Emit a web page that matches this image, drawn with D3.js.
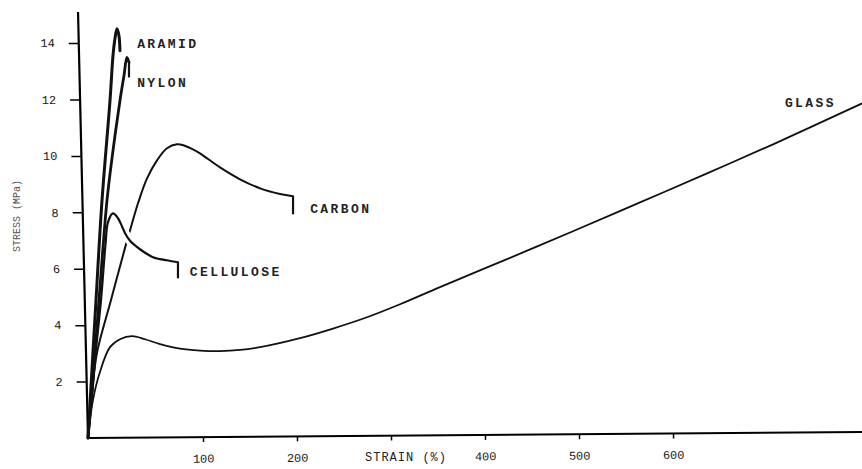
<!DOCTYPE html>
<html>
<head>
<meta charset="utf-8">
<script src="https://cdn.jsdelivr.net/npm/d3@7"></script>
<style>
  html, body { margin: 0; padding: 0; background: #fff; }
  svg { display: block; }
  text { font-family: "Liberation Mono", "DejaVu Sans Mono", monospace; fill: #222; }
</style>
</head>
<body>
<script>
// stress-strain curves, [strain %, stress MPa]
const aramid = [[-22.3, 0], [-13.8, 4.88], [-7.4, 8.42], [1.1, 11.96], [4.3, 13.56],
  [6.4, 14.16], [8.5, 14.51], [10.6, 14.27], [11.7, 13.73]];
const nylon = [[-22.3, 0], [-17.0, 2.05], [-10.6, 4.88], [-2.1, 8.42], [4.3, 10.19],
  [11.7, 11.96], [16.0, 12.85], [19.1, 13.49], [21.3, 13.31], [21.3, 12.78]];
const cellulose = [[-22.3, 0], [-14.9, 2.76], [-8.5, 4.88], [-3.6, 6.9], [-1.0, 7.65],
  [4.3, 7.96], [9.6, 7.79], [13.9, 7.50], [17.1, 7.26], [22.4, 6.99], [33.0, 6.69],
  [46.8, 6.41], [61.7, 6.30], [73.4, 6.23], [73.4, 5.66]];
const carbon = [[-22.3, 0], [-18.1, 1.52], [-12.8, 3.01], [2.1, 4.88], [17.0, 6.73],
  [22.4, 7.36], [30.9, 8.32], [40.5, 9.2], [51.1, 9.84], [61.7, 10.27], [72.4, 10.41],
  [79.8, 10.37], [88.3, 10.25], [96.8, 10.09], [118.1, 9.59], [139.4, 9.17], [160.7, 8.85],
  [181.9, 8.65], [195.8, 8.57], [195.8, 7.93]];
const glass = [[-22.3, 0], [-17.0, 1.35], [-9.6, 2.34], [1.1, 3.22], [11.7, 3.5],
  [24.5, 3.61], [38.3, 3.50], [54.3, 3.33], [75.6, 3.17], [96.8, 3.10], [118.1, 3.08],
  [139.4, 3.12], [160.7, 3.22], [203.2, 3.54], [238.3, 3.88], [274.5, 4.28], [309.6, 4.74],
  [352.1, 5.35], [423.4, 6.34], [493.6, 7.33], [564.9, 8.35], [636.2, 9.38], [706.4, 10.41],
  [801.1, 11.86]];

const xTicks = [100, 200, 300, 400, 500, 600];
const yTicks = [2, 4, 6, 8, 10, 12, 14];

// name, data, where the label sits [strain, stress], does it end with a break mark,
// and from which point on the curve is drawn "over" the others
const fibres = [
  { name: 'ARAMID', data: aramid, label: [30, 14.0], brk: false, w: 3 },
  { name: 'NYLON', data: nylon, label: [30, 12.6], brk: true, w: 2.8 },
  { name: 'CARBON', data: carbon, label: [214, 8.15], brk: true, w: 2 },
  { name: 'CELLULOSE', data: cellulose, label: [86, 5.9], brk: true, w: 2.2, over: 6 },
  { name: 'GLASS', data: glass, label: [719, 11.9], brk: false, w: 1.8 }
];

const W = 862, H = 469;
const x = d3.scaleLinear().domain([-22.3, 801]).range([88, 862]);
const y = d3.scaleLinear().domain([0, 15.1]).range([438, 12]);

const svg = d3.select('body').append('svg')
  .attr('width', W)
  .attr('height', H);

// axes (the scan is slightly skewed, so lean them a touch)
let gy = svg.append('g')
  .attr('transform', `translate(${x(-22.3)},${y(0)}) skewX(1.34) translate(0,${-y(0)})`)
  .call(d3.axisLeft(y).tickValues(yTicks).tickSize(10).tickPadding(14).tickFormat(d3.format('d')));
gy.select('.domain').attr('d', `M0,${y(0)}V${y(15.1)}`).attr('stroke-width', 2.2);
gy.selectAll('.tick line').attr('stroke-width', 1.5);
gy.selectAll('.tick text').attr('font-size', 12).attr('font-family', '"Liberation Mono", monospace');

let gx = svg.append('g')
  .attr('transform', `translate(0,${y(0)}) rotate(-0.45,${x(-22.3)},0)`)
  .call(d3.axisBottom(x).tickValues(xTicks).tickSize(5).tickPadding(12)
    .tickFormat(d => d === 300 ? '' : d));
gx.select('.domain').attr('d', `M${x(-22.3)},0H${x(801)}`).attr('stroke-width', 2);
gx.selectAll('.tick line').attr('stroke-width', 1.5);
gx.selectAll('.tick text').attr('font-size', 12).attr('font-family', '"Liberation Mono", monospace');

svg.append('text')
  .attr('x', 406).attr('y', 461)
  .attr('text-anchor', 'middle')
  .attr('font-size', 12)
  .attr('letter-spacing', 1)
  .text('STRAIN (%)');

svg.append('text')
  .attr('transform', 'translate(20,216) rotate(-90)')
  .attr('text-anchor', 'middle')
  .attr('font-size', 10)
  .style('fill', '#555')
  .text('STRESS (MPa)');

// curves
const smooth = d3.line().x(d => x(d[0])).y(d => y(d[1])).curve(d3.curveCatmullRom.alpha(0.5));
const straight = d3.line().x(d => x(d[0])).y(d => y(d[1]));

let gCurves = svg.append('g')
  .attr('fill', 'none')
  .attr('stroke', '#111')
  .attr('stroke-linejoin', 'round')
  .attr('stroke-linecap', 'round');

fibres.forEach(function (f) {
  let body = f.brk ? f.data.slice(0, -1) : f.data;
  if (f.over) {
    // white gap where this curve crosses over another one
    gCurves.append('path')
      .attr('d', smooth(body.slice(f.over)))
      .attr('stroke', '#fff')
      .attr('stroke-width', 9);
  }
  gCurves.append('path')
    .attr('d', smooth(body))
    .attr('stroke-width', f.w);
  if (f.brk) {
    gCurves.append('path')
      .attr('d', straight(f.data.slice(-2)))
      .attr('stroke-linecap', 'butt')
      .attr('stroke-width', 2.2);
  }
});

svg.append('g').selectAll('text')
  .data(fibres)
  .join('text')
  .attr('x', d => x(d.label[0]))
  .attr('y', d => y(d.label[1]))
  .attr('dy', '0.35em')
  .attr('font-size', 13)
  .attr('font-weight', 'bold')
  .attr('letter-spacing', 2.4)
  .text(d => d.name);
</script>
</body>
</html>
